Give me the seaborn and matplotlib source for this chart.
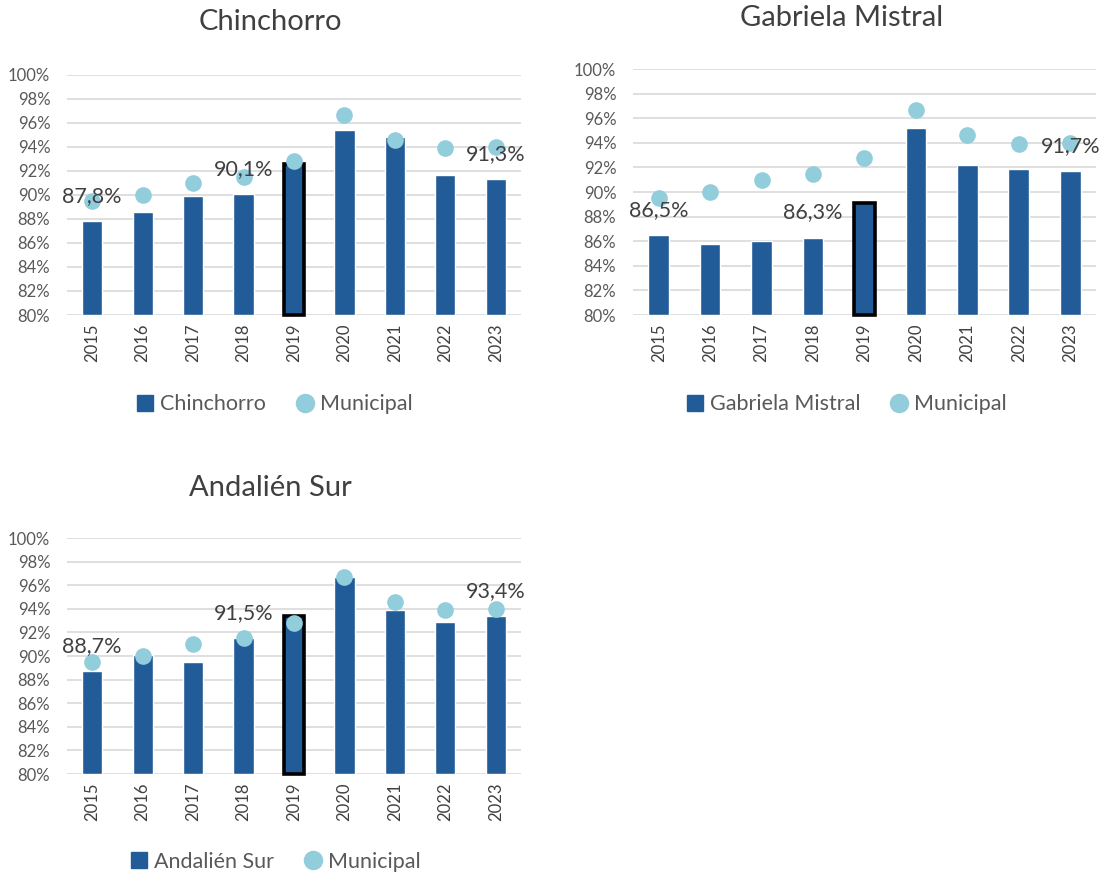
import matplotlib
matplotlib.use('Agg')
import matplotlib.pyplot as plt
import seaborn as sns
import pandas as pd
from matplotlib.lines import Line2D

# data (percent)
years = ['2015', '2016', '2017', '2018', '2019', '2020', '2021', '2022', '2023']
municipal = [89.5, 90.0, 91.0, 91.5, 92.8, 96.7, 94.6, 93.9, 94.0]
chinchorro = [87.8, 88.6, 89.9, 90.1, 92.6, 95.4, 94.8, 91.7, 91.3]
gabriela = [86.5, 85.8, 86.0, 86.3, 89.1, 95.2, 92.2, 91.9, 91.7]
andalien = [88.7, 90.1, 89.5, 91.5, 93.4, 96.7, 93.9, 92.9, 93.4]
labelled_years = ['2015', '2018', '2023']
highlight_year = '2019'

BAR = '#215C99'
DOT = '#92CDDC'
GRID = '#D9D9D9'

sns.set_theme(style='white')
plt.rcParams['font.family'] = ['Lato', 'DejaVu Sans']

fig = plt.figure(figsize=(11.02, 8.75), dpi=100)

panels = [
    ('Chinchorro', chinchorro, [0.0608, 0.640, 0.412, 0.2743], (0.245, 0.975), (0.248, 0.538)),
    ('Gabriela Mistral', gabriela, [0.5744, 0.640, 0.4201, 0.2811], (0.764, 0.980), (0.767, 0.538)),
    ('Andalién Sur', andalien, [0.0608, 0.1154, 0.412, 0.2697], (0.245, 0.442), (0.249, 0.015)),
]

for name, vals, rect, title_pos, leg_pos in panels:
    ax = fig.add_axes(rect)
    df = pd.DataFrame({'Año': years, name: vals, 'Municipal': municipal})
    ax.set_ylim(80, 100)
    ax.set_yticks(range(80, 101, 2))
    ax.yaxis.grid(True, color=GRID, lw=1.2)
    ax.set_axisbelow(True)

    sns.barplot(data=df, x='Año', y=name, color=BAR, width=0.4, ax=ax,
                saturation=1, zorder=2)
    for patch, yr in zip(ax.patches, years):
        patch.set_y(80)
        patch.set_height(df.loc[df['Año'] == yr, name].iloc[0] - 80)
        if yr == highlight_year:
            patch.set_edgecolor('black')
            patch.set_linewidth(2.6)
            patch.set_clip_on(False)

    sns.stripplot(data=df, x='Año', y='Municipal', jitter=False, color=DOT,
                  size=12, linewidth=0, ax=ax, zorder=3)

    for i, yr in enumerate(years):
        if yr in labelled_years:
            v = vals[i]
            ax.annotate(f'{v:.1f}%'.replace('.', ','), (i, v), xytext=(0, 18),
                        textcoords='offset points', ha='center', va='center',
                        fontsize=15.5, color='#404040', zorder=4)

    ax.set_xlim(-0.5, len(years) - 0.5)
    ax.set_yticklabels([f'{t}%' for t in range(80, 101, 2)], fontsize=12, color='#595959')
    ax.tick_params(axis='x', labelrotation=90, labelsize=12, labelcolor='#404040', length=0, pad=6)
    ax.tick_params(axis='y', length=0, pad=12)
    ax.set_xlabel('')
    ax.set_ylabel('')
    for s in ax.spines.values():
        s.set_visible(False)

    fig.text(title_pos[0], title_pos[1], name, ha='center', va='center',
             fontsize=21, color='#404040')

    handles = [Line2D([], [], marker='s', ls='none', color=BAR, markersize=12),
               Line2D([], [], marker='o', ls='none', color=DOT, markersize=13)]
    fig.legend(handles, [name, 'Municipal'], loc='center', bbox_to_anchor=leg_pos,
               ncol=2, frameon=False, fontsize=15.5, labelcolor='#595959',
               handletextpad=0.2, columnspacing=1.3, handlelength=1.0)

fig.savefig('out.png', dpi=100)
